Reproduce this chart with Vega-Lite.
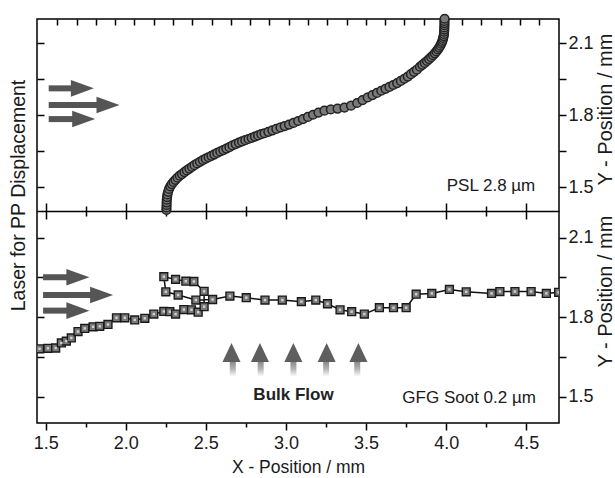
{
  "$schema": "https://vega.github.io/schema/vega-lite/v6.json",
  "width": 522,
  "height": 404,
  "autosize": {"type": "none"},
  "padding": {"left": 37, "top": 19, "right": 56, "bottom": 55},
  "background": "white",
  "config": {
    "view": {"stroke": "#000000", "strokeWidth": 1.5},
    "axis": {
      "grid": false,
      "domainColor": "#000000",
      "domainWidth": 1.5,
      "tickColor": "#000000",
      "tickWidth": 1.5,
      "labelColor": "#1a1a1a",
      "titleColor": "#1a1a1a",
      "labelFont": "Liberation Sans Narrow, Liberation Sans, Arial, sans-serif",
      "labelFontSize": 18,
      "titleFont": "Liberation Sans, Arial, sans-serif",
      "titleFontWeight": "normal",
      "labelFlush": false,
      "labelOverlap": false
    }
  },
  "datasets": {
    "psl": [
      {"X": 2.254, "Y": 1.405}, {"X": 2.254, "Y": 1.415}, {"X": 2.255, "Y": 1.425}, {"X": 2.255, "Y": 1.436},
      {"X": 2.256, "Y": 1.447}, {"X": 2.258, "Y": 1.458}, {"X": 2.26, "Y": 1.469}, {"X": 2.264, "Y": 1.48},
      {"X": 2.27, "Y": 1.492}, {"X": 2.278, "Y": 1.503}, {"X": 2.287, "Y": 1.512}, {"X": 2.298, "Y": 1.521},
      {"X": 2.31, "Y": 1.53}, {"X": 2.323, "Y": 1.539}, {"X": 2.337, "Y": 1.547}, {"X": 2.351, "Y": 1.554},
      {"X": 2.366, "Y": 1.562}, {"X": 2.381, "Y": 1.569}, {"X": 2.397, "Y": 1.577}, {"X": 2.413, "Y": 1.584},
      {"X": 2.429, "Y": 1.591}, {"X": 2.446, "Y": 1.598}, {"X": 2.463, "Y": 1.605}, {"X": 2.481, "Y": 1.612},
      {"X": 2.499, "Y": 1.618}, {"X": 2.517, "Y": 1.624}, {"X": 2.535, "Y": 1.63}, {"X": 2.553, "Y": 1.636},
      {"X": 2.571, "Y": 1.642}, {"X": 2.59, "Y": 1.648}, {"X": 2.609, "Y": 1.654}, {"X": 2.628, "Y": 1.66},
      {"X": 2.647, "Y": 1.666}, {"X": 2.666, "Y": 1.673}, {"X": 2.686, "Y": 1.679}, {"X": 2.706, "Y": 1.685},
      {"X": 2.726, "Y": 1.69}, {"X": 2.746, "Y": 1.695}, {"X": 2.766, "Y": 1.7}, {"X": 2.786, "Y": 1.705},
      {"X": 2.806, "Y": 1.71}, {"X": 2.826, "Y": 1.715}, {"X": 2.846, "Y": 1.72}, {"X": 2.866, "Y": 1.724},
      {"X": 2.89, "Y": 1.73}, {"X": 2.915, "Y": 1.736}, {"X": 2.94, "Y": 1.742}, {"X": 2.966, "Y": 1.748},
      {"X": 2.992, "Y": 1.754}, {"X": 3.019, "Y": 1.76}, {"X": 3.047, "Y": 1.767}, {"X": 3.076, "Y": 1.775},
      {"X": 3.106, "Y": 1.783}, {"X": 3.137, "Y": 1.792}, {"X": 3.169, "Y": 1.801}, {"X": 3.203, "Y": 1.81},
      {"X": 3.24, "Y": 1.818}, {"X": 3.28, "Y": 1.823}, {"X": 3.322, "Y": 1.827}, {"X": 3.365, "Y": 1.831},
      {"X": 3.406, "Y": 1.839}, {"X": 3.444, "Y": 1.85}, {"X": 3.478, "Y": 1.862}, {"X": 3.51, "Y": 1.873},
      {"X": 3.54, "Y": 1.883}, {"X": 3.568, "Y": 1.892}, {"X": 3.595, "Y": 1.901}, {"X": 3.621, "Y": 1.909},
      {"X": 3.646, "Y": 1.917}, {"X": 3.67, "Y": 1.925}, {"X": 3.694, "Y": 1.933}, {"X": 3.717, "Y": 1.942},
      {"X": 3.739, "Y": 1.951}, {"X": 3.76, "Y": 1.96}, {"X": 3.78, "Y": 1.97}, {"X": 3.799, "Y": 1.98},
      {"X": 3.817, "Y": 1.989}, {"X": 3.836, "Y": 2.001}, {"X": 3.851, "Y": 2.009}, {"X": 3.866, "Y": 2.017},
      {"X": 3.88, "Y": 2.025}, {"X": 3.893, "Y": 2.033}, {"X": 3.906, "Y": 2.041}, {"X": 3.918, "Y": 2.049},
      {"X": 3.929, "Y": 2.057}, {"X": 3.939, "Y": 2.065}, {"X": 3.948, "Y": 2.073}, {"X": 3.956, "Y": 2.081},
      {"X": 3.963, "Y": 2.089}, {"X": 3.969, "Y": 2.097}, {"X": 3.974, "Y": 2.105}, {"X": 3.978, "Y": 2.113},
      {"X": 3.981, "Y": 2.121}, {"X": 3.984, "Y": 2.129}, {"X": 3.986, "Y": 2.138}, {"X": 3.987, "Y": 2.147},
      {"X": 3.988, "Y": 2.156}, {"X": 3.988, "Y": 2.165}, {"X": 3.989, "Y": 2.174}, {"X": 3.989, "Y": 2.183},
      {"X": 3.989, "Y": 2.192}, {"X": 3.99, "Y": 2.201}
    ],
    "gfg": [
      {"i": 1, "X": 1.462, "Y": 1.68}, {"i": 2, "X": 1.514, "Y": 1.682}, {"i": 3, "X": 1.5625, "Y": 1.683},
      {"i": 4, "X": 1.598, "Y": 1.702}, {"i": 5, "X": 1.629, "Y": 1.709}, {"i": 6, "X": 1.66, "Y": 1.721},
      {"i": 7, "X": 1.702, "Y": 1.745}, {"i": 8, "X": 1.744, "Y": 1.757}, {"i": 9, "X": 1.796, "Y": 1.763},
      {"i": 10, "X": 1.8375, "Y": 1.765}, {"i": 11, "X": 1.889, "Y": 1.772}, {"i": 12, "X": 1.942, "Y": 1.797},
      {"i": 13, "X": 1.994, "Y": 1.797}, {"i": 14, "X": 2.056, "Y": 1.789}, {"i": 15, "X": 2.119, "Y": 1.795},
      {"i": 16, "X": 2.175, "Y": 1.811}, {"i": 17, "X": 2.2375, "Y": 1.821}, {"i": 18, "X": 2.275, "Y": 1.82},
      {"i": 19, "X": 2.311, "Y": 1.811}, {"i": 20, "X": 2.3625, "Y": 1.828}, {"i": 21, "X": 2.41, "Y": 1.827},
      {"i": 22, "X": 2.452, "Y": 1.818}, {"i": 23, "X": 2.489, "Y": 1.839}, {"i": 24, "X": 2.489, "Y": 1.897},
      {"i": 25, "X": 2.425, "Y": 1.934}, {"i": 26, "X": 2.375, "Y": 1.935}, {"i": 27, "X": 2.311, "Y": 1.942},
      {"i": 28, "X": 2.2375, "Y": 1.952}, {"i": 29, "X": 2.25, "Y": 1.895}, {"i": 30, "X": 2.327, "Y": 1.883},
      {"i": 31, "X": 2.4375, "Y": 1.864}, {"i": 32, "X": 2.542, "Y": 1.866}, {"i": 33, "X": 2.65, "Y": 1.879},
      {"i": 34, "X": 2.752, "Y": 1.873}, {"i": 35, "X": 2.869, "Y": 1.864}, {"i": 36, "X": 2.977, "Y": 1.864},
      {"i": 37, "X": 3.096, "Y": 1.858}, {"i": 38, "X": 3.186, "Y": 1.864}, {"i": 39, "X": 3.259, "Y": 1.85},
      {"i": 40, "X": 3.3375, "Y": 1.827}, {"i": 41, "X": 3.41, "Y": 1.82}, {"i": 42, "X": 3.489, "Y": 1.811},
      {"i": 43, "X": 3.583, "Y": 1.835}, {"i": 44, "X": 3.671, "Y": 1.835}, {"i": 45, "X": 3.75, "Y": 1.835},
      {"i": 46, "X": 3.8125, "Y": 1.886}, {"i": 47, "X": 3.91, "Y": 1.889}, {"i": 48, "X": 4.02, "Y": 1.904},
      {"i": 49, "X": 4.125, "Y": 1.895}, {"i": 50, "X": 4.283, "Y": 1.889}, {"i": 51, "X": 4.335, "Y": 1.896},
      {"i": 52, "X": 4.429, "Y": 1.896}, {"i": 53, "X": 4.53, "Y": 1.896}, {"i": 54, "X": 4.625, "Y": 1.889},
      {"i": 55, "X": 4.702, "Y": 1.893}
    ],
    "arrowsTop": [
      {"x0": 1.519, "x1": 1.801, "y": 1.911},
      {"x0": 1.519, "x1": 1.961, "y": 1.842},
      {"x0": 1.519, "x1": 1.809, "y": 1.783}
    ],
    "arrowsBottom": [
      {"x0": 1.484, "x1": 1.773, "y": 1.95},
      {"x0": 1.484, "x1": 1.921, "y": 1.883},
      {"x0": 1.484, "x1": 1.773, "y": 1.824}
    ],
    "bulk": [
      {"x": 2.66, "yb": 1.575, "yt": 1.702},
      {"x": 2.8375, "yb": 1.575, "yt": 1.702},
      {"x": 3.046, "yb": 1.575, "yt": 1.702},
      {"x": 3.254, "yb": 1.575, "yt": 1.702},
      {"x": 3.452, "yb": 1.575, "yt": 1.702}
    ],
    "textTop": [{"X": 4.556, "Y": 1.485, "t": "PSL 2.8 µm"}],
    "textBottom": [{"X": 4.56, "Y": 1.4755, "t": "GFG Soot 0.2 µm"}],
    "textBulk": [{"X": 3.047, "Y": 1.487, "t": "Bulk Flow"}]
  },
  "layer": [
    {
      "data": {"name": "psl"},
      "mark": {"type": "point", "shape": "circle", "filled": true, "size": 76, "fill": "#7a7a7a", "stroke": "#222222", "strokeWidth": 1.5, "opacity": 1},
      "encoding": {
        "x": {"field": "X", "type": "quantitative", "scale": {"domain": [1.446, 4.704], "nice": false, "zero": false},
          "axis": {"orient": "top", "offset": -6, "tickSize": 6, "labels": false, "domain": false, "title": null,
            "values": [1.573, 1.694, 1.814, 1.934, 2.054, 2.175, 2.295, 2.415, 2.536, 2.656, 2.776, 2.897, 3.017, 3.137, 3.257, 3.378, 3.498, 3.618, 3.739, 3.859, 3.979, 4.1, 4.22, 4.34, 4.46, 4.581]}},
        "y": {"field": "Y", "type": "quantitative", "scale": {"domain": [1.4, 2.2], "range": [192, 0], "nice": false, "zero": false},
          "axis": {"orient": "right", "values": [1.5, 1.65, 1.8, 1.95, 2.1], "tickSize": 7, "labelPadding": 2, "domain": false,
            "labelExpr": "abs(datum.value-1.65)<0.01 || abs(datum.value-1.95)<0.01 ? '' : format(datum.value, '.1f')",
            "title": "Y - Position / mm", "titleFontSize": 20, "titleAngle": 270, "titleX": 46, "titleY": 90, "titleAlign": "center", "titleBaseline": "middle"}}
      }
    },
    {
      "data": {"name": "arrowsTop"},
      "mark": {"type": "rule", "strokeWidth": 6, "color": "#555555", "x2Offset": -20},
      "encoding": {
        "x": {"field": "x0", "type": "quantitative", "scale": {"domain": [1.446, 4.704], "nice": false, "zero": false},
          "axis": {"orient": "bottom", "offset": -220, "tickSize": 16, "labels": false, "domain": false, "title": null, "values": [1.5, 2, 2.5, 3, 3.5, 4, 4.5]}},
        "x2": {"field": "x1"},
        "y": {"field": "y", "type": "quantitative", "scale": {"domain": [1.4, 2.2], "range": [192, 0], "nice": false, "zero": false},
          "axis": {"orient": "left", "offset": -7, "tickSize": 7, "labels": false, "domain": false, "values": [1.5, 1.65, 1.8, 1.95, 2.1],
            "title": "Laser for PP Displacement", "titleFontSize": 19.5, "titleAngle": 270, "titleX": -26, "titleY": 176, "titleAlign": "center", "titleBaseline": "middle"}}
      }
    },
    {
      "data": {"name": "arrowsTop"},
      "mark": {"type": "point", "shape": "M-2,-0.72L0,0L-2,0.72Z", "filled": true, "size": 529, "color": "#555555", "opacity": 1},
      "encoding": {
        "x": {"field": "x1", "type": "quantitative", "scale": {"domain": [1.446, 4.704], "nice": false, "zero": false},
          "axis": {"orient": "bottom", "offset": -217, "tickSize": 10, "labels": false, "domain": false, "title": null, "values": [1.75, 2.25, 2.75, 3.25, 3.75, 4.25]}},
        "y": {"field": "y", "type": "quantitative", "scale": {"domain": [1.4, 2.2], "range": [192, 0], "nice": false, "zero": false}, "axis": null}
      }
    },
    {
      "data": {"name": "textTop"},
      "mark": {"type": "text", "align": "right", "baseline": "alphabetic", "font": "Liberation Sans, Arial, sans-serif", "fontSize": 17, "color": "#1a1a1a"},
      "encoding": {
        "x": {"field": "X", "type": "quantitative", "scale": {"domain": [1.446, 4.704], "nice": false, "zero": false}, "axis": null},
        "y": {"field": "Y", "type": "quantitative", "scale": {"domain": [1.4, 2.2], "range": [192, 0], "nice": false, "zero": false}, "axis": null},
        "text": {"field": "t"}
      }
    },
    {
      "data": {"name": "gfg"},
      "mark": {"type": "line", "color": "#111111", "strokeWidth": 1.5, "clip": true},
      "encoding": {
        "x": {"field": "X", "type": "quantitative", "scale": {"domain": [1.446, 4.704], "nice": false, "zero": false},
          "axis": {"orient": "bottom", "values": [1.5, 2, 2.5, 3, 3.5, 4, 4.5], "format": ".1f", "tickSize": 7, "labelPadding": 4, "domain": false,
            "title": "X - Position / mm", "titleFontSize": 17.5, "titleY": 49, "titleBaseline": "alphabetic"}},
        "y": {"field": "Y", "type": "quantitative", "scale": {"domain": [1.4, 2.2], "range": [404, 192], "nice": false, "zero": false},
          "axis": {"orient": "right", "values": [1.5, 1.65, 1.8, 1.95, 2.1], "tickSize": 7, "labelPadding": 2, "domain": false,
            "labelExpr": "abs(datum.value-1.65)<0.01 || abs(datum.value-1.95)<0.01 ? '' : format(datum.value, '.1f')",
            "title": "Y - Position / mm", "titleFontSize": 20, "titleAngle": 270, "titleX": 46, "titleY": 272, "titleAlign": "center", "titleBaseline": "middle"}},
        "order": {"field": "i", "type": "quantitative"}
      }
    },
    {
      "data": {"name": "gfg"},
      "mark": {"type": "point", "shape": "square", "filled": true, "size": 62, "fill": "#777777", "stroke": "#1a1a1a", "strokeWidth": 1.4, "opacity": 1, "clip": true},
      "encoding": {
        "x": {"field": "X", "type": "quantitative", "scale": {"domain": [1.446, 4.704], "nice": false, "zero": false},
          "axis": {"orient": "bottom", "values": [1.75, 2.25, 2.75, 3.25, 3.75, 4.25], "tickSize": 4, "labels": false, "domain": false, "title": null}},
        "y": {"field": "Y", "type": "quantitative", "scale": {"domain": [1.4, 2.2], "range": [404, 192], "nice": false, "zero": false},
          "axis": {"orient": "left", "offset": -7, "tickSize": 7, "labels": false, "domain": false, "values": [1.5, 1.65, 1.8, 1.95, 2.1], "title": null}}
      }
    },
    {
      "data": {"name": "gfg"},
      "mark": {"type": "point", "shape": "square", "filled": true, "size": 6, "color": "#cfcfcf", "opacity": 1, "clip": true},
      "encoding": {
        "x": {"field": "X", "type": "quantitative", "scale": {"domain": [1.446, 4.704], "nice": false, "zero": false},
          "axis": {"orient": "top", "offset": -192, "ticks": false, "labels": false, "domain": true, "title": null}},
        "y": {"field": "Y", "type": "quantitative", "scale": {"domain": [1.4, 2.2], "range": [404, 192], "nice": false, "zero": false}, "axis": null}
      }
    },
    {
      "data": {"name": "arrowsBottom"},
      "mark": {"type": "rule", "strokeWidth": 6, "color": "#555555", "x2Offset": -20},
      "encoding": {
        "x": {"field": "x0", "type": "quantitative", "scale": {"domain": [1.446, 4.704], "nice": false, "zero": false}, "axis": null},
        "x2": {"field": "x1"},
        "y": {"field": "y", "type": "quantitative", "scale": {"domain": [1.4, 2.2], "range": [404, 192], "nice": false, "zero": false}, "axis": null}
      }
    },
    {
      "data": {"name": "arrowsBottom"},
      "mark": {"type": "point", "shape": "M-2,-0.72L0,0L-2,0.72Z", "filled": true, "size": 529, "color": "#555555", "opacity": 1},
      "encoding": {
        "x": {"field": "x1", "type": "quantitative", "scale": {"domain": [1.446, 4.704], "nice": false, "zero": false}, "axis": null},
        "y": {"field": "y", "type": "quantitative", "scale": {"domain": [1.4, 2.2], "range": [404, 192], "nice": false, "zero": false}, "axis": null}
      }
    },
    {
      "data": {"name": "bulk"},
      "mark": {"type": "bar", "size": 6, "y2Offset": 12,
        "color": {"gradient": "linear", "x1": 0, "y1": 1, "x2": 0, "y2": 0,
          "stops": [{"offset": 0, "color": "#ffffff"}, {"offset": 0.35, "color": "#b5b5b5"}, {"offset": 1, "color": "#5e5e5e"}]}},
      "encoding": {
        "x": {"field": "x", "type": "quantitative", "scale": {"domain": [1.446, 4.704], "nice": false, "zero": false}, "axis": null},
        "y": {"field": "yb", "type": "quantitative", "scale": {"domain": [1.4, 2.2], "range": [404, 192], "nice": false, "zero": false}, "axis": null},
        "y2": {"field": "yt"}
      }
    },
    {
      "data": {"name": "bulk"},
      "mark": {"type": "point", "shape": "M-0.95,2L0,0L0.95,2Z", "filled": true, "size": 361, "color": "#5e5e5e", "opacity": 1},
      "encoding": {
        "x": {"field": "x", "type": "quantitative", "scale": {"domain": [1.446, 4.704], "nice": false, "zero": false}, "axis": null},
        "y": {"field": "yt", "type": "quantitative", "scale": {"domain": [1.4, 2.2], "range": [404, 192], "nice": false, "zero": false}, "axis": null}
      }
    },
    {
      "data": {"name": "textBottom"},
      "mark": {"type": "text", "align": "right", "baseline": "alphabetic", "font": "Liberation Sans, Arial, sans-serif", "fontSize": 17, "color": "#1a1a1a"},
      "encoding": {
        "x": {"field": "X", "type": "quantitative", "scale": {"domain": [1.446, 4.704], "nice": false, "zero": false}, "axis": null},
        "y": {"field": "Y", "type": "quantitative", "scale": {"domain": [1.4, 2.2], "range": [404, 192], "nice": false, "zero": false}, "axis": null},
        "text": {"field": "t"}
      }
    },
    {
      "data": {"name": "textBulk"},
      "mark": {"type": "text", "align": "center", "baseline": "alphabetic", "font": "Liberation Sans, Arial, sans-serif", "fontSize": 17, "fontWeight": "bold", "color": "#222222"},
      "encoding": {
        "x": {"field": "X", "type": "quantitative", "scale": {"domain": [1.446, 4.704], "nice": false, "zero": false}, "axis": null},
        "y": {"field": "Y", "type": "quantitative", "scale": {"domain": [1.4, 2.2], "range": [404, 192], "nice": false, "zero": false}, "axis": null},
        "text": {"field": "t"}
      }
    }
  ],
  "resolve": {
    "scale": {"x": "independent", "y": "independent"},
    "axis": {"x": "independent", "y": "independent"}
  }
}
